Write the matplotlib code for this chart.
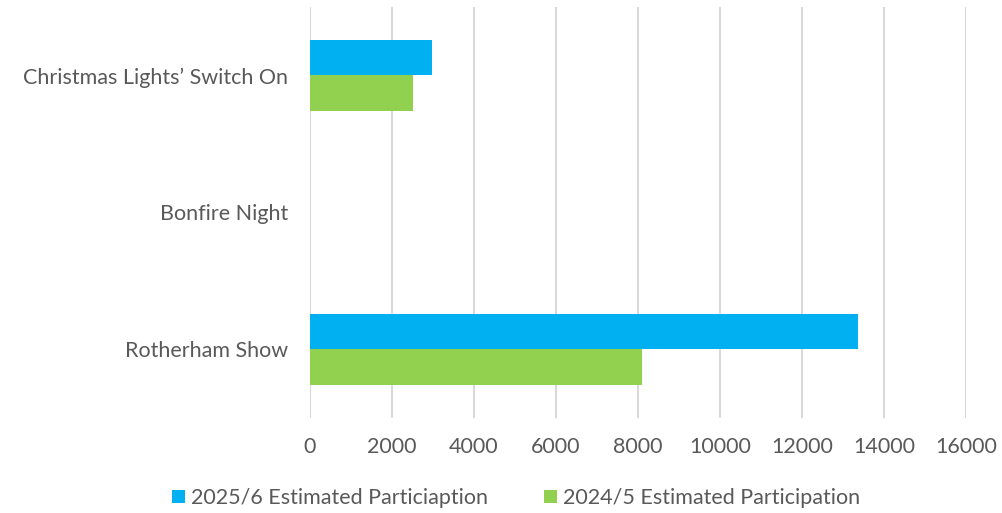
import numpy as np
import matplotlib.pyplot as plt

events = ['Rotherham Show', 'Bonfire Night', 'Christmas Lights\u2019 Switch On']
participation_2025 = [13370, 0, 2970]
participation_2024 = [8090, 0, 2500]
x_ticks = [0, 2000, 4000, 6000, 8000, 10000, 12000, 14000, 16000]

plt.rcParams['font.family'] = ['Lato', 'DejaVu Sans']
grey = '#595959'

fig = plt.figure(figsize=(10.02, 5.13), dpi=100)
ax = fig.add_axes([0.3094, 0.1852, 0.6547, 0.8012])

y = np.arange(len(events))
h = 0.26
ax.barh(y + h / 2, participation_2025, height=h, color='#00B0F0',
        label='2025/6 Estimated Particiaption', zorder=3)
ax.barh(y - h / 2, participation_2024, height=h, color='#92D050',
        label='2024/5 Estimated Participation', zorder=3)

ax.set_xlim(0, 16000)
ax.set_ylim(-0.5, len(events) - 0.5)
ax.set_xticks(x_ticks)
ax.set_xticklabels([str(t) for t in x_ticks])
ax.set_yticks(y)
ax.set_yticklabels(events)
ax.tick_params(axis='both', length=0, labelsize=15.5, labelcolor=grey)
ax.tick_params(axis='x', pad=14)
ax.tick_params(axis='y', pad=16)
ax.grid(axis='x', color='#d9d9d9', linewidth=1.5, zorder=0)
for s in ax.spines.values():
    s.set_visible(False)

fig.legend(loc='center', bbox_to_anchor=(0.515, 0.029), ncol=2, frameon=False,
           fontsize=15.5, labelcolor=grey, handlelength=0.6, handleheight=0.6,
           handletextpad=0.3, columnspacing=2.6)

fig.savefig('out.png', dpi=100)
